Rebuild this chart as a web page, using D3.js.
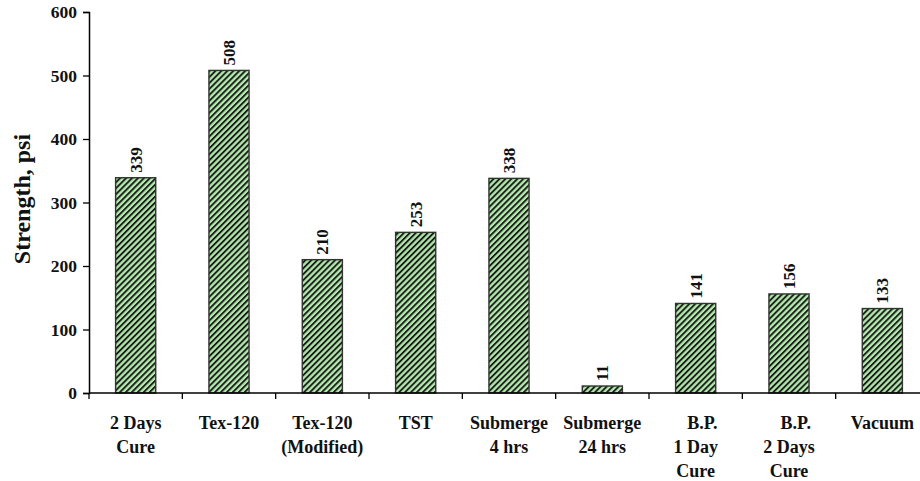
<!DOCTYPE html>
<html>
<head>
<meta charset="utf-8">
<script src="https://cdn.jsdelivr.net/npm/d3@7"></script>
<style>
  html, body { margin: 0; padding: 0; background: #fff; }
  svg { display: block; }
  text { font-family: "Liberation Serif", "Times New Roman", serif; font-weight: bold; fill: #111; }
</style>
</head>
<body>
<svg id="chart" width="920" height="481"></svg>
<script>
const categories = ["2 Days Cure", "Tex-120", "Tex-120 (Modified)", "TST", "Submerge 4 hrs",
  "Submerge 24 hrs", "B.P. 1 Day Cure", "B.P. 2 Days Cure", "Vacuum"];
const categoryLines = [
  ["2 Days", "Cure"],
  ["Tex-120"],
  ["Tex-120", "(Modified)"],
  ["TST"],
  ["Submerge", "4 hrs"],
  ["Submerge", "24 hrs"],
  ["\u00a0\u00a0\u00a0B.P.", "1 Day", "Cure"],
  ["\u00a0\u00a0\u00a0B.P.", "2 Days", "Cure"],
  ["Vacuum"]
];
const strength = [339, 508, 210, 253, 338, 11, 141, 156, 133];
const yTicks = [0, 100, 200, 300, 400, 500, 600];
const yTitle = "Strength, psi";

const svg = d3.select("#chart");
const mLeft = 89, mRight = 929, mTop = 12, mBottom = 393;

const y = d3.scaleLinear().domain([0, 600]).range([mBottom, mTop]);
const xOuter = d3.scaleBand().domain(categories).range([mLeft, mRight]).padding(0);
const x = d3.scaleBand().domain(categories).range([mLeft, mRight]).paddingInner(0.57).paddingOuter(0.285);

// pattern
const defs = svg.append("defs");
const pat = defs.append("pattern")
  .attr("id", "hatch")
  .attr("patternUnits", "userSpaceOnUse")
  .attr("width", 4.2).attr("height", 4.2)
  .attr("patternTransform", "rotate(45)");
pat.append("rect").attr("width", 4.2).attr("height", 4.2).attr("fill", "#b2eaac");
pat.append("rect").attr("width", 1.9).attr("height", 4.2).attr("fill", "#1c1c1c");

// bars
svg.append("g").selectAll("rect")
  .data(categories)
  .join("rect")
  .attr("x", d => x(d))
  .attr("y", (d, i) => y(strength[i]))
  .attr("width", x.bandwidth())
  .attr("height", (d, i) => y(0) - y(strength[i]))
  .attr("fill", "url(#hatch)")
  .attr("stroke", "#333")
  .attr("stroke-width", 1.4);

// value labels
svg.append("g").selectAll("text")
  .data(categories)
  .join("text")
  .attr("transform", (d, i) => `translate(${x(d) + x.bandwidth() / 2 + 6},${y(strength[i]) - 5}) rotate(-90)`)
  .attr("text-anchor", "start")
  .style("font-size", "17px")
  .text((d, i) => strength[i]);

// y axis
const yAxis = svg.append("g")
  .attr("transform", `translate(${mLeft},0)`)
  .call(d3.axisLeft(y).tickValues(yTicks).tickSize(6).tickPadding(6));
yAxis.select(".domain").attr("stroke", "#000").attr("stroke-width", 1.5);
yAxis.selectAll(".tick line").attr("stroke", "#000").attr("stroke-width", 1.3);
yAxis.selectAll(".tick text").style("font-size", "17.5px").attr("font-family", null).attr("fill", "#111");

// x axis
const xAxis = svg.append("g").attr("transform", `translate(0,${mBottom})`);
xAxis.append("line").attr("x1", mLeft).attr("x2", mRight).attr("stroke", "#000").attr("stroke-width", 1.5);
const bounds = categories.map(d => xOuter(d)).concat([xOuter.range()[1]]);
xAxis.selectAll("line.tk").data(bounds).join("line")
  .attr("class", "tk")
  .attr("x1", d => d).attr("x2", d => d)
  .attr("y1", 0).attr("y2", 6)
  .attr("stroke", "#000").attr("stroke-width", 1.3);

const lbl = svg.append("g").selectAll("text")
  .data(categories)
  .join("text")
  .attr("text-anchor", "middle")
  .style("font-size", "18px")
  .attr("x", d => xOuter(d) + xOuter.bandwidth() / 2)
  .attr("y", 429);
lbl.each(function(d, i) {
  const t = d3.select(this);
  categoryLines[i].forEach((line, j) => {
    t.append("tspan")
      .attr("x", xOuter(d) + xOuter.bandwidth() / 2)
      .attr("y", 429 + j * 24)
      .text(line);
  });
});

// y title
svg.append("text")
  .attr("transform", `translate(30,199) rotate(-90)`)
  .attr("text-anchor", "middle")
  .style("font-size", "24px")
  .text(yTitle);
</script>
</body>
</html>
